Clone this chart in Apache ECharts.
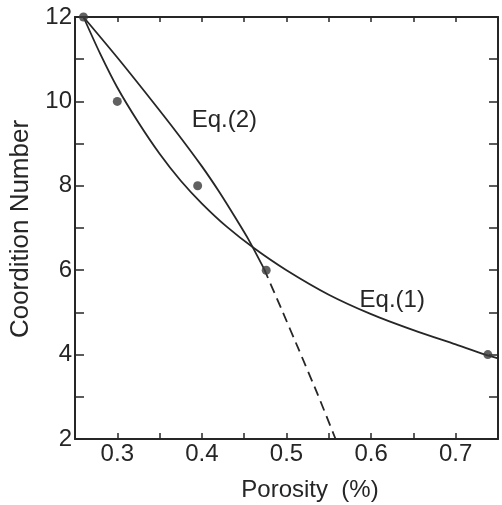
<!DOCTYPE html>
<html>
<head>
<meta charset="utf-8">
<script src="https://cdn.jsdelivr.net/npm/echarts@6/dist/echarts.min.js"></script>
<style>
html,body{margin:0;padding:0;background:#fff;}
#chart{width:502px;height:505px;}
</style>
</head>
<body>
<div id="chart"></div>
<script>
// ---- data ----
var measuredPoints = [[0.26, 12], [0.30, 10], [0.395, 8], [0.476, 6], [0.738, 4]];
var eq1Curve = [[0.26, 12.0], [0.28, 11.12], [0.30, 10.33], [0.325, 9.5], [0.35, 8.76],
  [0.375, 8.12], [0.40, 7.58], [0.43, 7.02], [0.4618, 6.52], [0.50, 6.0],
  [0.55, 5.42], [0.60, 4.96], [0.65, 4.58], [0.70, 4.24], [0.735, 4.0], [0.75, 3.91]];
var eq2Solid = [[0.26, 12.0], [0.30, 11.04], [0.34, 10.04], [0.37, 9.27], [0.40, 8.46],
  [0.42, 7.87], [0.44, 7.23], [0.455, 6.73], [0.4735, 6.03]];
var eq2Dashed = [[0.4735, 6.03], [0.494, 5.08], [0.5147, 4.11], [0.537, 3.05], [0.558, 2.0]];
var annotationTexts = ['Eq.(2)', 'Eq.(1)'];
var annotationCoords = [[0.4265, 9.56], [0.625, 5.29]];
var xTickLabels = ['0.3', '0.4', '0.5', '0.6', '0.7'];
var yTickLabels = ['2', '4', '6', '8', '10', '12'];
var xAxisTitle = 'Porosity  (%)';
var yAxisTitle = 'Coordition Number';

var ink = '#262626';
var font = 'Liberation Sans, Arial, Helvetica, sans-serif';

var chart = echarts.init(document.getElementById('chart'), null, {renderer: 'canvas'});

function xLabel(v) {
  var s = v.toFixed(2).replace(/0$/, '');
  return xTickLabels.indexOf(s) >= 0 ? s : '';
}
function yLabel(v) {
  var s = String(Math.round(v));
  return yTickLabels.indexOf(s) >= 0 ? s : '';
}

var axisLineStyle = {show: true, lineStyle: {color: ink, width: 2}};

var option = {
  backgroundColor: '#fff',
  animation: false,
  grid: {left: 75, right: 4, top: 17, bottom: 66, containLabel: false, outerBoundsMode: 'none'},
  xAxis: [
    {
      type: 'value', position: 'bottom', min: 0.25, max: 0.75, interval: 0.05,
      axisLine: axisLineStyle,
      axisTick: {show: true, inside: true, length: 6, lineStyle: {color: ink, width: 1.5}},
      axisLabel: {show: true, margin: 3, formatter: xLabel, color: ink, fontSize: 24, fontFamily: font,
        showMinLabel: false, showMaxLabel: false},
      splitLine: {show: false}
    },
    {
      type: 'value', position: 'top', min: 0.25, max: 0.75, interval: 0.05,
      axisLine: axisLineStyle,
      axisTick: {show: true, inside: true, length: 5, lineStyle: {color: ink, width: 1.5}},
      axisLabel: {show: false},
      splitLine: {show: false}
    }
  ],
  yAxis: [
    {
      type: 'value', position: 'left', min: 2, max: 12, interval: 1,
      axisLine: axisLineStyle,
      axisTick: {show: true, inside: true, length: 9, lineStyle: {color: ink, width: 1.5}},
      axisLabel: {show: true, margin: 3, formatter: yLabel, color: ink, fontSize: 24, fontFamily: font},
      splitLine: {show: false}
    },
    {
      type: 'value', position: 'right', min: 2, max: 12, interval: 1,
      axisLine: axisLineStyle,
      axisTick: {show: true, inside: true, length: 9, lineStyle: {color: ink, width: 1.5}},
      axisLabel: {show: false},
      splitLine: {show: false}
    }
  ],
  series: [
    {
      name: 'Eq.(1)', type: 'line', data: eq1Curve, smooth: 0.3,
      showSymbol: false, symbol: 'none', clip: true,
      lineStyle: {color: ink, width: 1.8}
    },
    {
      name: 'Eq.(2)', type: 'line', data: eq2Solid, smooth: 0.3,
      showSymbol: false, symbol: 'none', clip: true,
      lineStyle: {color: ink, width: 1.8}
    },
    {
      name: 'Eq.(2) ext', type: 'line', data: eq2Dashed, smooth: 0.2,
      showSymbol: false, symbol: 'none', clip: true,
      lineStyle: {color: ink, width: 1.8, type: [10, 6]}
    },
    {
      name: 'data', type: 'scatter', data: measuredPoints, symbol: 'circle', symbolSize: 9,
      itemStyle: {color: '#3a3a3a'}, clip: false, z: 5
    },
    {
      name: 'labels', type: 'scatter', symbolSize: 1, silent: true,
      itemStyle: {color: '#ffffff', opacity: 1},
      z: 1,
      data: annotationCoords.map(function (c, i) {
        return {value: c, name: annotationTexts[i]};
      }),
      label: {show: true, position: 'inside', formatter: function (p) { return p.name; },
        color: ink, fontSize: 24, fontFamily: font, align: 'center', verticalAlign: 'middle',
        textBorderWidth: 0, opacity: 1}
    }
  ],
  graphic: [
    {
      type: 'text', x: 21, y: 229, rotation: Math.PI / 2,
      style: {text: yAxisTitle, fill: ink, font: '26px ' + font, textAlign: 'center', textVerticalAlign: 'middle'}
    },
    {
      type: 'text', x: 310, y: 490,
      style: {text: xAxisTitle, fill: ink, font: '24px ' + font, textAlign: 'center', textVerticalAlign: 'middle'}
    }
  ]
};
chart.setOption(option);
</script>
</body>
</html>
